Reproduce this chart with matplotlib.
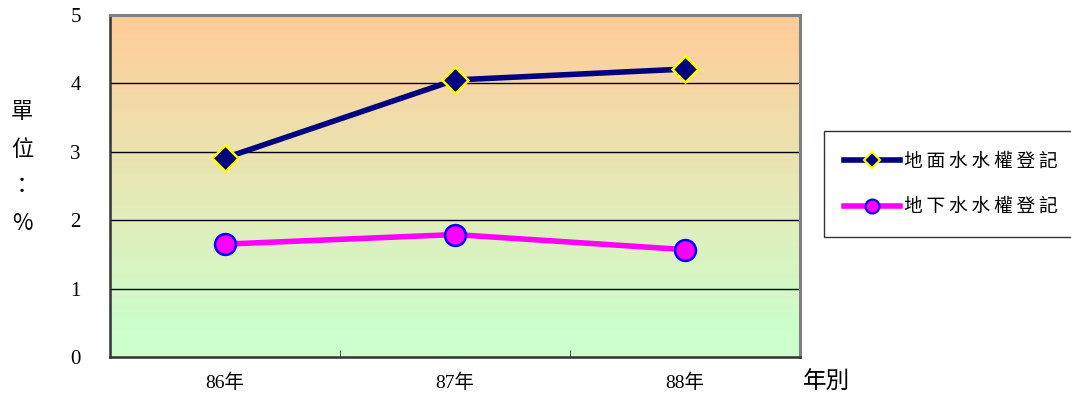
import numpy as np
import matplotlib
matplotlib.use("Agg")
import matplotlib.pyplot as plt
from matplotlib.colors import LinearSegmentedColormap
from matplotlib.lines import Line2D

plt.rcParams['font.family'] = ['Liberation Serif', 'Noto Sans CJK TC', 'DejaVu Sans']

categories = ['86年', '87年', '88年']
surface = [2.91, 4.05, 4.21]
ground = [1.65, 1.79, 1.57]
series_names = ['地面水水權登記', '地下水水權登記']
yticks = [0, 1, 2, 3, 4, 5]

fig = plt.figure(figsize=(10.71, 4.03), dpi=100)
ax = fig.add_axes([110/1071, 1-357/403, 690/1071, 342/403])

x = np.arange(len(categories))
ax.set_xlim(-0.5, len(categories) - 0.5)
ax.set_ylim(0, 5)

# gradient background
cmap = LinearSegmentedColormap.from_list(
    'bg', [(0.0, '#CCFFCC'), (0.08, '#CCFFCC'), (0.5, '#E6E8B6'), (1.0, '#FFCC99')])
grad = np.linspace(0, 1, 256).reshape(-1, 1)
ax.imshow(grad, cmap=cmap, aspect='auto', origin='lower',
          extent=[0, 1, 0, 1], transform=ax.transAxes, zorder=0)

for yv in yticks[1:-1]:
    ax.axhline(yv, color='black', lw=1.0, zorder=1)

ax.plot(x, surface, color='#000080', lw=4, marker='D', ms=13,
        markerfacecolor='#000080', markeredgecolor='#FFFF00', mew=1.8, zorder=3)
ax.plot(x, ground, color='#FF00FF', lw=4, marker='o', ms=15,
        markerfacecolor='#FF00FF', markeredgecolor='#0000FF', mew=1.8, zorder=3)

ax.set_yticks(yticks)
ax.set_yticklabels([str(v) for v in yticks], fontsize=15)
ax.set_xticks(x)
ax.set_xticklabels(categories, fontsize=14)
ax.tick_params(axis='x', length=0, pad=12)
ax.tick_params(axis='y', length=0, pad=21)
ax.set_xticks([0.5, 1.5], minor=True)
ax.tick_params(axis='x', which='minor', length=5, direction='in', color='#333333')

for s in ['left', 'bottom']:
    ax.spines[s].set_color('#333333')
    ax.spines[s].set_linewidth(1.8)
for s in ['top', 'right']:
    ax.spines[s].set_color('#808080')
    ax.spines[s].set_linewidth(2.2)

# y label stacked
for i, ch in enumerate(['單', '位', '：', '%']):
    fig.text(22/1071, 1 - (112 + i*37)/403, ch, fontsize=16, ha='center', va='center',
             family=['Noto Sans CJK TC', 'DejaVu Sans'])

fig.text(826/1071, 1-382/403, '年別', fontsize=17, ha='center', va='center',
         family=['Noto Sans CJK TC'])

handles = [
    Line2D([], [], color='#000080', lw=4, marker='D', ms=8,
           markerfacecolor='#000080', markeredgecolor='#FFFF00', mew=1.5),
    Line2D([], [], color='#FF00FF', lw=4, marker='o', ms=10,
           markerfacecolor='#FF00FF', markeredgecolor='#0000FF', mew=1.5),
]
labels = ['\u2009'.join(n) for n in series_names]
leg = fig.legend(handles, labels, loc='upper left',
                 bbox_to_anchor=(824/1071, 1-131/403), frameon=True, fancybox=False,
                 edgecolor='black', handlelength=3.0, handletextpad=0.2,
                 labelspacing=1.3, borderpad=1.05, borderaxespad=0,
                 prop={'family': ['Noto Sans CJK TC', 'DejaVu Sans'], 'size': 13.5})
leg.get_frame().set_linewidth(1.0)

fig.savefig('out.png', dpi=100)
